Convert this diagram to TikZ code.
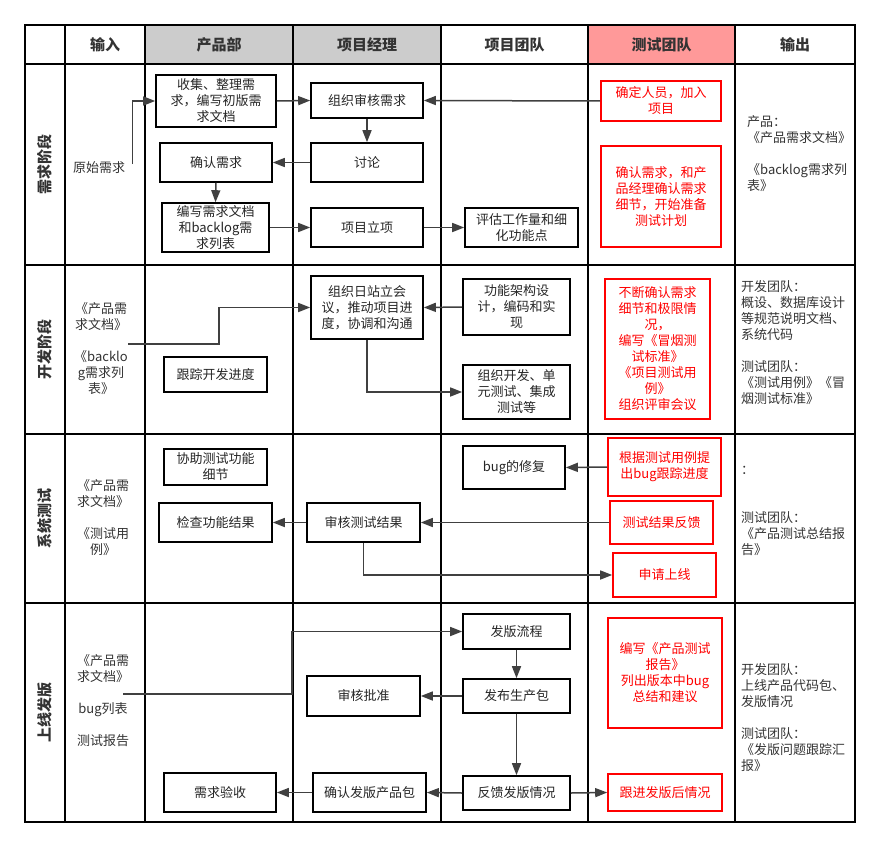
\documentclass[tikz,border=0pt]{standalone}
\usepackage{fontspec}
\setmainfont{Noto Sans CJK SC}
\usetikzlibrary{arrows.meta}
\definecolor{headgray}{HTML}{CCCCCC}
\definecolor{headpink}{HTML}{FF9999}
\definecolor{linegray}{HTML}{404040}
\definecolor{textgray}{HTML}{333333}
\tikzset{box/.style = {draw, fill=white, line width=1.6pt, rectangle, align=center, inner sep=1pt, text=black!85, font=\fontsize{13}{16}\selectfont},
         redbox/.style = {box, draw=red, text=red},
         wh/.style 2 args = {minimum width=#1, minimum height=#2},
         conn/.style = {draw=linegray, line width=1.5pt, -{Triangle[length=12pt,width=9pt]}},
         grid/.style = {draw=black, line width=1.8pt},
         head/.style = {text=textgray, font=\fontsize{15}{18}\selectfont\bfseries},
         stage/.style = {rotate=90, text=textgray, font=\fontsize{15}{18}\selectfont\bfseries},
         note/.style = {inner sep=0pt, text=textgray, font=\fontsize{13}{16}\selectfont}}
\begin{document}
\begin{tikzpicture}[x=1pt,y=-1pt]
        \useasboundingbox (0,0) rectangle (880,848);
        \fill[headgray] (145,25) rectangle (441,64);
        \fill[headpink] (588,25) rectangle (735,64);
        \draw[grid] (25,25) rectangle (855,822);
        \draw[grid] (25,64) -- (855,64);
        \draw[grid] (25,265) -- (855,265);
        \draw[grid] (25,434) -- (855,434);
        \draw[grid] (25,603) -- (855,603);
        \draw[grid] (65,25) -- (65,822);
        \draw[grid, line width=2.8pt] (145,25) -- (145,822);
        \draw[grid, line width=2.8pt] (293,25) -- (293,822);
        \draw[grid] (441,25) -- (441,822);
        \draw[grid] (588,25) -- (588,822);
        \draw[grid] (735,25) -- (735,822);

        \node[head] (hin) at (105,44.5) {输入};
        \node[head] (hprod) at (219,44.5) {产品部};
        \node[head] (hpm) at (367,44.5) {项目经理};
        \node[head] (hteam) at (514.5,44.5) {项目团队};
        \node[head] (htest) at (661.5,44.5) {测试团队};
        \node[head] (hout) at (795,44.5) {输出};

        \node[stage] (sreq) at (45,164.5) {需求阶段};
        \node[stage] (sdev) at (45,349.5) {开发阶段};
        \node[stage] (ssys) at (45,518.5) {系统测试};
        \node[stage] (srel) at (45,712.5) {上线发版};

        \node[note, anchor=west] (rawin) at (73,168) {原始需求};
        \node[note, align=center] (devin) at (101,349) {《产品需\\求文档》\\ \\《backlo\\g需求列\\表》};
        \node[note, align=center] (sysin) at (103,518) {《产品需\\求文档》\\ \\《测试用\\例》};
        \node[note, align=center] (relin) at (103,701) {《产品需\\求文档》\\ \\bug列表\\ \\测试报告};
        \node[note, align=left, anchor=west] (reqout) at (747,154) {产品：\\《产品需求文档》\\ \\《backlog需求列\\表》};
        \node[note, align=left, anchor=west] (devout) at (741,343) {开发团队：\\概设、数据库设计\\等规范说明文档、\\系统代码\\ \\测试团队：\\《测试用例》《冒\\烟测试标准》};
        \node[note, align=left, anchor=west] (sysout) at (741,511) {：\\ \\ \\测试团队：\\《产品测试总结报\\告》};
        \node[note, align=left, anchor=west] (relout) at (741,718) {开发团队：\\上线产品代码包、\\发版情况\\ \\测试团队：\\《发版问题跟踪汇\\报》};

        \node[box, wh={120}{52}] (collect) at (216,101) {收集、整理需\\求，编写初版需\\求文档};
        \node[box, wh={112}{35}] (review) at (367,100.5) {组织审核需求};
        \node[box, wh={112}{39}] (confirm) at (216,162.5) {确认需求};
        \node[box, wh={112}{39}] (discuss) at (367,162.5) {讨论};
        \node[box, wh={107}{49}] (writedoc) at (215.5,227.5) {编写需求文档\\和backlog需\\求列表};
        \node[box, wh={112}{39}] (setup) at (367,227.5) {项目立项};
        \node[box, wh={113}{39}] (estimate) at (521.5,227.5) {评估工作量和细\\化功能点};
        \node[redbox, wh={120}{40}] (staff) at (661,101) {确定人员，加入\\项目};
        \node[redbox, wh={120}{101}] (testplan) at (661,196.5) {确认需求，和产\\品经理确认需求\\细节，开始准备\\测试计划};

        \node[box, wh={112}{63}] (standup) at (367,307.5) {组织日站立会\\议，推动项目进\\度，协调和沟通};
        \node[box, wh={103}{35}] (track) at (215.5,374.5) {跟踪开发进度};
        \node[box, wh={107}{56}] (arch) at (516.5,307) {功能架构设\\计，编码和实\\现};
        \node[box, wh={107}{54}] (devtest) at (516.5,392) {组织开发、单\\元测试、集成\\测试等};
        \node[redbox, wh={105}{140}] (smoke) at (657.5,349) {不断确认需求\\细节和极限情\\况，\\编写《冒烟测\\试标准》\\《项目测试用\\例》\\组织评审会议};

        \node[box, wh={103}{36}] (assist) at (215.5,467) {协助测试功能\\细节};
        \node[box, wh={113}{39}] (check) at (215.5,522.5) {检查功能结果};
        \node[box, wh={113}{39}] (audit) at (363.5,522.5) {审核测试结果};
        \node[box, wh={102}{43}] (bugfix) at (514,467.5) {bug的修复};
        \node[redbox, wh={113}{58}] (bugtrack) at (664.5,467) {根据测试用例提\\出bug跟踪进度};
        \node[redbox, wh={103}{43}] (feedback) at (661.5,522.5) {测试结果反馈};
        \node[redbox, wh={103}{44}] (apply) at (664.5,575) {申请上线};

        \node[box, wh={107}{35}] (flow) at (516.5,631.5) {发版流程};
        \node[box, wh={107}{34}] (package) at (516.5,696) {发布生产包};
        \node[box, wh={107}{34}] (relfb) at (516.5,793) {反馈发版情况};
        \node[redbox, wh={114}{110}] (report) at (665,673) {编写《产品测试\\报告》\\列出版本中bug\\总结和建议};
        \node[redbox, wh={114}{37}] (follow) at (665,792.5) {跟进发版后情况};
        \node[box, wh={113}{40}] (approve) at (363.5,696) {审核批准};
        \node[box, wh={113}{39}] (confpkg) at (369.5,792.5) {确认发版产品包};
        \node[box, wh={112}{39}] (accept) at (220,792.5) {需求验收};

        \coordinate (devfrom) at (128,344);
        \coordinate (relfrom) at (123,694);

        \draw[conn] ([xshift=7pt,yshift=4pt]rawin.east) |- (collect.west);
        \draw[conn] (collect.east) -- (review.west);
        \draw[conn] (staff.west) -- (review.east);
        \draw[conn] (review.south) -- (discuss.north);
        \draw[conn] (discuss.west) -- (confirm.east);
        \draw[conn] (confirm.south) -- (writedoc.north);
        \draw[conn] (writedoc.east) -- (setup.west);
        \draw[conn] (setup.east) -- (estimate.west);

        \draw[conn] (devfrom) -- ++(91,0) |- (standup.west);
        \draw[conn] (arch.west) -- (standup.east);
        \draw[conn] (standup.south) |- (devtest.west);

        \draw[conn] (bugtrack.west) -- (bugfix.east);
        \draw[conn] (feedback.west) -- (audit.east);
        \draw[conn] (audit.west) -- (check.east);
        \draw[conn] (audit.south) |- (apply.west);

        \draw[conn] (relfrom) -- ++(169,0) |- (flow.west);
        \draw[conn] (flow.south) -- (package.north);
        \draw[conn] (package.west) -- (approve.east);
        \draw[conn] (package.south) -- (relfb.north);
        \draw[conn] (relfb.west) -- (confpkg.east);
        \draw[conn] (confpkg.west) -- (accept.east);
        \draw[conn] (relfb.east) -- (follow.west);
\end{tikzpicture}
\end{document}
